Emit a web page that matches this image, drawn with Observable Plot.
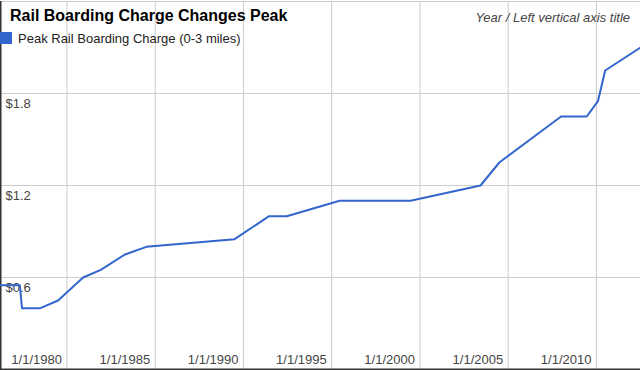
<!DOCTYPE html>
<html>
<head>
<meta charset="utf-8">
<script src="https://cdn.jsdelivr.net/npm/d3@7"></script>
<script src="https://cdn.jsdelivr.net/npm/@observablehq/plot@0.6"></script>
<style>
  html, body { margin: 0; padding: 0; background: #fff; }
  #wrap { position: relative; width: 640px; height: 370px; font-family: Arial, "Liberation Sans", sans-serif; }
  #wrap svg { position: absolute; left: 0; top: 0; }
  .title { position: absolute; left: 10px; top: 7px; font-size: 16px; font-weight: bold; color: #000; white-space: nowrap; }
  .legend { position: absolute; left: 0px; top: 31px; font-size: 13px; color: #222; white-space: nowrap; }
  .legend .sw { display: inline-block; width: 12px; height: 12px; background: #3366cc; vertical-align: -1px; margin-right: 6px; }
  .sub { position: absolute; right: 10px; top: 10px; font-size: 13px; font-style: italic; color: #444; white-space: nowrap; }
</style>
</head>
<body>
<div id="wrap">
  <div class="title">Rail Boarding Charge Changes Peak</div>
  <div class="legend"><span class="sw"></span>Peak Rail Boarding Charge (0-3 miles)</div>
  <div class="sub">Year / Left vertical axis title</div>
</div>
<script>
const dates = ["1976-03-27","1977-05-01","1977-06-15","1978-07-01","1979-07-01","1980-12-01","1981-12-01","1983-04-15","1984-07-01","1989-07-01","1991-06-15","1992-06-15","1995-06-15","1999-06-20","2003-06-08","2004-07-01","2008-01-01","2009-06-15","2010-02-01","2010-07-01","2012-07-01"];
const charges = [0.55,0.55,0.40,0.40,0.45,0.60,0.65,0.75,0.80,0.85,1.00,1.00,1.10,1.10,1.20,1.35,1.65,1.65,1.75,1.95,2.10];
const xTickYears = [1980,1985,1990,1995,2000,2005,2010];
const xTickLabels = ["1/1/1980","1/1/1985","1/1/1990","1/1/1995","1/1/2000","1/1/2005","1/1/2010"];
const yGrid = [0.6,1.2,1.8,2.4];
const yTicks = [0.6,1.2,1.8];
const yTickLabels = ["$0.6","$1.2","$1.8"];

const data = dates.map((d, i) => ({date: new Date(d + "T00:00:00Z"), value: charges[i]}));
const xTicks = xTickYears.map((y, i) => ({date: new Date(Date.UTC(y, 0, 1)), label: xTickLabels[i]}));
const yT = yTicks.map((v, i) => ({v, label: yTickLabels[i]}));
const x0 = data[0].date, x1 = data[data.length - 1].date;

const chart = Plot.plot({
  width: 640,
  height: 370,
  marginLeft: 0,
  marginRight: 0,
  marginTop: 1,
  marginBottom: 1,
  style: {fontFamily: "Arial, 'Liberation Sans', sans-serif", background: "transparent"},
  x: {type: "utc", domain: [x0, x1], axis: null},
  y: {domain: [0, 2.4], axis: null},
  marks: [
    Plot.ruleX(xTicks, {x: "date", stroke: "#cccccc", strokeWidth: 1}),
    Plot.ruleY(yGrid, {stroke: "#cccccc", strokeWidth: 1}),
    Plot.ruleY([0], {stroke: "#333", strokeWidth: 2}),
    Plot.ruleX([x0], {stroke: "#333", strokeWidth: 2}),
    Plot.text(yT, {x: () => x0, y: "v", text: "label", textAnchor: "start", lineAnchor: "bottom", dx: 5, dy: 14, fontSize: 13, fill: "#444"}),
    Plot.text(xTicks, {x: "date", frameAnchor: "bottom", text: "label", textAnchor: "end", lineAnchor: "bottom", dx: -5, dy: -6, fontSize: 13, fill: "#444"}),
    Plot.line(data, {x: "date", y: "value", stroke: "#3366cc", strokeWidth: 2})
  ]
});
document.getElementById("wrap").prepend(chart);
</script>
</body>
</html>
